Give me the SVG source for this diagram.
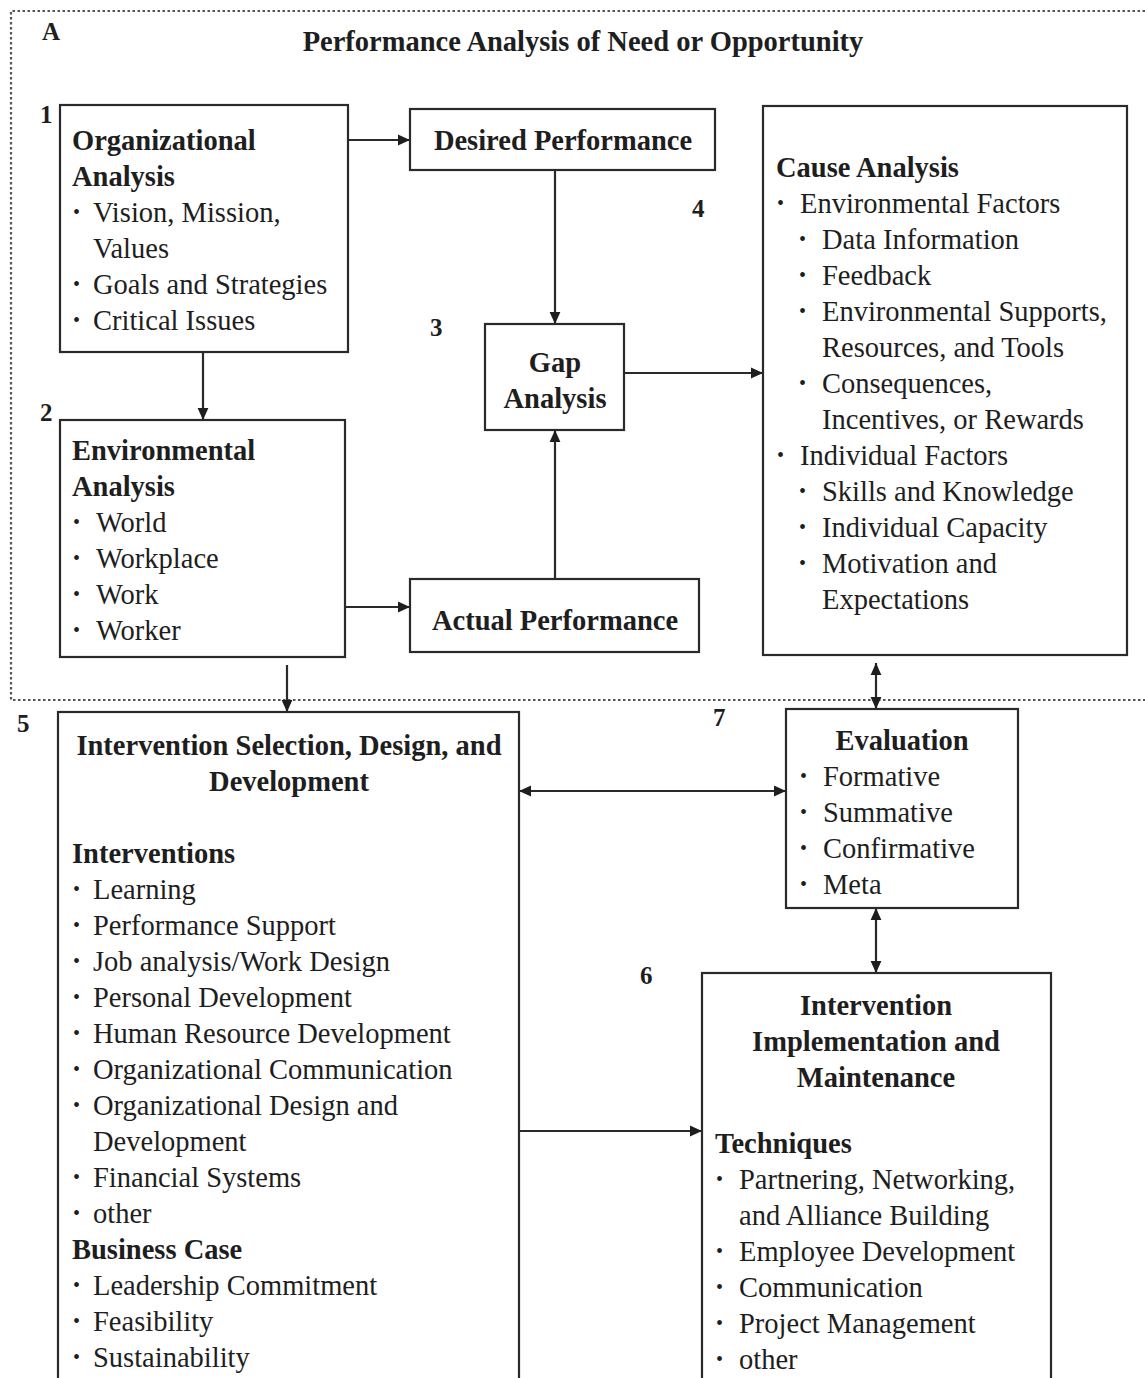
<svg xmlns="http://www.w3.org/2000/svg" width="1145" height="1378" viewBox="0 0 1145 1378">
<style>
text{font-family:"Liberation Serif","Times New Roman",serif;font-size:28.5px;fill:#1e1e1e}
.b{font-weight:bold}
.c{text-anchor:middle}
.num{font-weight:bold;font-size:25px}
.bl{font-size:20px}
.box{fill:#fff;stroke:#2a2a2a;stroke-width:2.2}
.con{fill:none;stroke:#2a2a2a;stroke-width:2.2}
.dot{fill:none;stroke:#555;stroke-width:2.2;stroke-dasharray:2.5 2.5}
</style>
<defs>
<marker id="ah" viewBox="0 0 10 10" refX="10" refY="5" markerWidth="13" markerHeight="12" orient="auto-start-reverse" markerUnits="userSpaceOnUse">
<path d="M0,0.5 L10,5 L0,9.5 z" fill="#1e1e1e"/>
</marker>
</defs>
<rect width="1145" height="1378" fill="#fff"/>
<g id="frame">
<path class="dot" d="M1145,11 H11 V700 H1145"/>
<text class="b" x="42" y="40" style="font-size:25px">A</text>
<text class="b c" x="583" y="51">Performance Analysis of Need or Opportunity</text>
</g>
<g id="connectors">
<path class="con" d="M348,140 H410" marker-end="url(#ah)"/>
<path class="con" d="M203,352 V420" marker-end="url(#ah)"/>
<path class="con" d="M555,170 V324" marker-end="url(#ah)"/>
<path class="con" d="M555,579 V430" marker-end="url(#ah)"/>
<path class="con" d="M624,373 H763" marker-end="url(#ah)"/>
<path class="con" d="M345,607 H410" marker-end="url(#ah)"/>
<path class="con" d="M287,665 V712" marker-end="url(#ah)"/>
<path class="con" d="M876,663 V709" marker-start="url(#ah)" marker-end="url(#ah)"/>
<path class="con" d="M519,791 H786" marker-start="url(#ah)" marker-end="url(#ah)"/>
<path class="con" d="M876,908 V973" marker-start="url(#ah)" marker-end="url(#ah)"/>
<path class="con" d="M519,1131 H702" marker-end="url(#ah)"/>
</g>
<g id="n1">
<rect class="box" x="60" y="105" width="288" height="247"/>
<text class="num" x="40" y="123">1</text>
<text class="b" x="72" y="150">Organizational</text>
<text class="b" x="72" y="186">Analysis</text>
<text class="bl" x="73" y="219">•</text><text x="93" y="222">Vision, Mission,</text>
<text x="93" y="258">Values</text>
<text class="bl" x="73" y="291">•</text><text x="93" y="294">Goals and Strategies</text>
<text class="bl" x="73" y="327">•</text><text x="93" y="330">Critical Issues</text>
</g>
<g id="n2">
<rect class="box" x="60" y="420" width="285" height="237"/>
<text class="num" x="40" y="421">2</text>
<text class="b" x="72" y="460">Environmental</text>
<text class="b" x="72" y="496">Analysis</text>
<text class="bl" x="73" y="529">•</text><text x="96" y="532">World</text>
<text class="bl" x="73" y="565">•</text><text x="96" y="568">Workplace</text>
<text class="bl" x="73" y="601">•</text><text x="96" y="604">Work</text>
<text class="bl" x="73" y="637">•</text><text x="96" y="640">Worker</text>
</g>
<g id="desired">
<rect class="box" x="410" y="109" width="305" height="61"/>
<text class="b c" x="563" y="150">Desired Performance</text>
</g>
<g id="gap">
<rect class="box" x="485" y="324" width="139" height="106"/>
<text class="num" x="430" y="336">3</text>
<text class="b c" x="555" y="372">Gap</text>
<text class="b c" x="555" y="408">Analysis</text>
</g>
<g id="actual">
<rect class="box" x="410" y="579" width="289" height="73"/>
<text class="b c" x="555" y="630">Actual Performance</text>
</g>
<g id="n4">
<rect class="box" x="763" y="106" width="364" height="549"/>
<text class="num" x="692" y="217">4</text>
<text class="b" x="776" y="177">Cause Analysis</text>
<text class="bl" x="777" y="210">•</text><text x="800" y="213">Environmental Factors</text>
<text class="bl" x="799" y="246">•</text><text x="822" y="249">Data Information</text>
<text class="bl" x="799" y="282">•</text><text x="822" y="285">Feedback</text>
<text class="bl" x="799" y="318">•</text><text x="822" y="321">Environmental Supports,</text>
<text x="822" y="357">Resources, and Tools</text>
<text class="bl" x="799" y="390">•</text><text x="822" y="393">Consequences,</text>
<text x="822" y="429">Incentives, or Rewards</text>
<text class="bl" x="777" y="462">•</text><text x="800" y="465">Individual Factors</text>
<text class="bl" x="799" y="498">•</text><text x="822" y="501">Skills and Knowledge</text>
<text class="bl" x="799" y="534">•</text><text x="822" y="537">Individual Capacity</text>
<text class="bl" x="799" y="570">•</text><text x="822" y="573">Motivation and</text>
<text x="822" y="609">Expectations</text>
</g>
<g id="n5">
<rect class="box" x="58" y="712" width="461" height="700"/>
<text class="num" x="17" y="732">5</text>
<text class="b c" x="289" y="755">Intervention Selection, Design, and</text>
<text class="b c" x="289" y="791">Development</text>
<text class="b" x="72" y="863">Interventions</text>
<text class="bl" x="73" y="896">•</text><text x="93" y="899">Learning</text>
<text class="bl" x="73" y="932">•</text><text x="93" y="935">Performance Support</text>
<text class="bl" x="73" y="968">•</text><text x="93" y="971">Job analysis/Work Design</text>
<text class="bl" x="73" y="1004">•</text><text x="93" y="1007">Personal Development</text>
<text class="bl" x="73" y="1040">•</text><text x="93" y="1043">Human Resource Development</text>
<text class="bl" x="73" y="1076">•</text><text x="93" y="1079">Organizational Communication</text>
<text class="bl" x="73" y="1112">•</text><text x="93" y="1115">Organizational Design and</text>
<text x="93" y="1151">Development</text>
<text class="bl" x="73" y="1184">•</text><text x="93" y="1187">Financial Systems</text>
<text class="bl" x="73" y="1220">•</text><text x="93" y="1223">other</text>
<text class="b" x="72" y="1259">Business Case</text>
<text class="bl" x="73" y="1292">•</text><text x="93" y="1295">Leadership Commitment</text>
<text class="bl" x="73" y="1328">•</text><text x="93" y="1331">Feasibility</text>
<text class="bl" x="73" y="1364">•</text><text x="93" y="1367">Sustainability</text>
</g>
<g id="n7">
<rect class="box" x="786" y="709" width="232" height="199"/>
<text class="num" x="713" y="726">7</text>
<text class="b c" x="902" y="750">Evaluation</text>
<text class="bl" x="800" y="783">•</text><text x="823" y="786">Formative</text>
<text class="bl" x="800" y="819">•</text><text x="823" y="822">Summative</text>
<text class="bl" x="800" y="855">•</text><text x="823" y="858">Confirmative</text>
<text class="bl" x="800" y="891">•</text><text x="823" y="894">Meta</text>
</g>
<g id="n6">
<rect class="box" x="702" y="973" width="349" height="440"/>
<text class="num" x="640" y="984">6</text>
<text class="b c" x="876" y="1015">Intervention</text>
<text class="b c" x="876" y="1051">Implementation and</text>
<text class="b c" x="876" y="1087">Maintenance</text>
<text class="b" x="715" y="1153">Techniques</text>
<text class="bl" x="716" y="1186">•</text><text x="739" y="1189">Partnering, Networking,</text>
<text x="739" y="1225">and Alliance Building</text>
<text class="bl" x="716" y="1258">•</text><text x="739" y="1261">Employee Development</text>
<text class="bl" x="716" y="1294">•</text><text x="739" y="1297">Communication</text>
<text class="bl" x="716" y="1330">•</text><text x="739" y="1333">Project Management</text>
<text class="bl" x="716" y="1366">•</text><text x="739" y="1369">other</text>
</g>
</svg>
